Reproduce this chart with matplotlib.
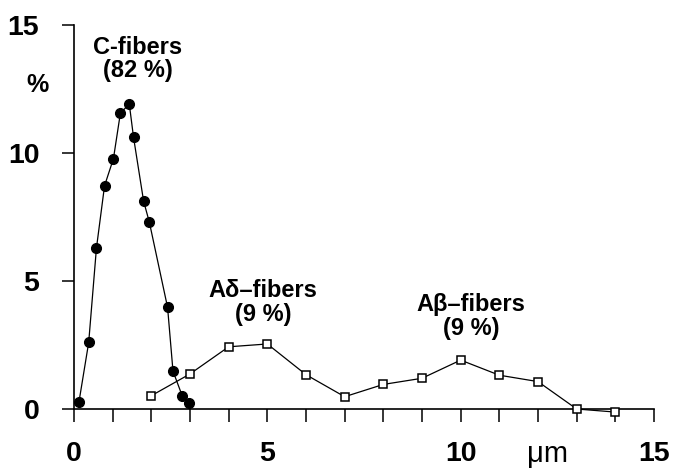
import matplotlib
matplotlib.use("Agg")
import matplotlib.pyplot as plt

plt.rcParams['font.family'] = ['Liberation Sans', 'DejaVu Sans']

# C-fibers (filled circles)
c_x = [0.13, 0.38, 0.58, 0.79, 1.02, 1.20, 1.43, 1.54, 1.80, 1.95, 2.42, 2.56, 2.80, 2.97]
c_y = [0.29, 2.60, 6.28, 8.72, 9.78, 11.56, 11.91, 10.61, 8.12, 7.29, 3.97, 1.48, 0.51, 0.25]

# A-fibers (open squares)
a_x = [2, 3, 4, 5, 6, 7, 8, 9, 10, 11, 12, 13, 14]
a_y = [0.52, 1.37, 2.43, 2.54, 1.34, 0.48, 0.96, 1.20, 1.91, 1.32, 1.07, 0.0, -0.12]

x_major = [0, 5, 10, 15]
x_labels = ['0', '5', '10', '15']
y_major = [0, 5, 10, 15]
y_labels = ['0', '5', '10', '15']

fig = plt.figure(figsize=(6.73, 4.70), dpi=100)
ax = fig.add_axes([74/673, 61/470, 580/673, 384/470])

ax.plot(a_x, a_y, '-', color='black', lw=0.9, marker='s', ms=6.4,
        mfc='white', mec='black', mew=1.1, clip_on=False, zorder=3)
ax.plot(c_x, c_y, '-', color='black', lw=0.9, marker='o', ms=7.0,
        mfc='black', mec='black', clip_on=False, zorder=4)

ax.set_xlim(0, 15)
ax.set_ylim(0, 15)
for s in ['top', 'right']:
    ax.spines[s].set_visible(False)
for s in ['left', 'bottom']:
    ax.spines[s].set_linewidth(1.2)

ax.set_xticks(x_major)
ax.set_xticklabels(x_labels)
ax.set_xticks([i for i in range(16) if i not in x_major], minor=True)
ax.set_yticks(y_major)
ax.set_yticklabels(y_labels)
ax.tick_params(axis='x', which='both', direction='out', length=9, width=1.1, pad=14,
               labelsize=20.5)
ax.tick_params(axis='y', which='both', direction='out', length=9, width=1.1, pad=16,
               labelsize=20.5)
for lab in ax.get_xticklabels() + ax.get_yticklabels():
    lab.set_fontweight('bold')

ax.text(12.25, -2.08, 'μm', ha='center', va='baseline', fontsize=21,
        fontweight='normal', clip_on=False)
ax.text(-0.95, 12.66, '%', ha='center', va='center', fontsize=18,
        fontweight='bold', clip_on=False)

ax.text(1.65, 13.67, 'C-fibers\n(82 %)', ha='center', va='center', fontsize=17,
        fontweight='bold', linespacing=1.05)
ax.text(4.89, 4.16, 'Aδ–fibers\n(9 %)', ha='center', va='center', fontsize=17,
        fontweight='bold', linespacing=1.05)
ax.text(10.27, 3.63, 'Aβ–fibers\n(9 %)', ha='center', va='center', fontsize=17,
        fontweight='bold', linespacing=1.05)

fig.savefig('out.png', dpi=100)
